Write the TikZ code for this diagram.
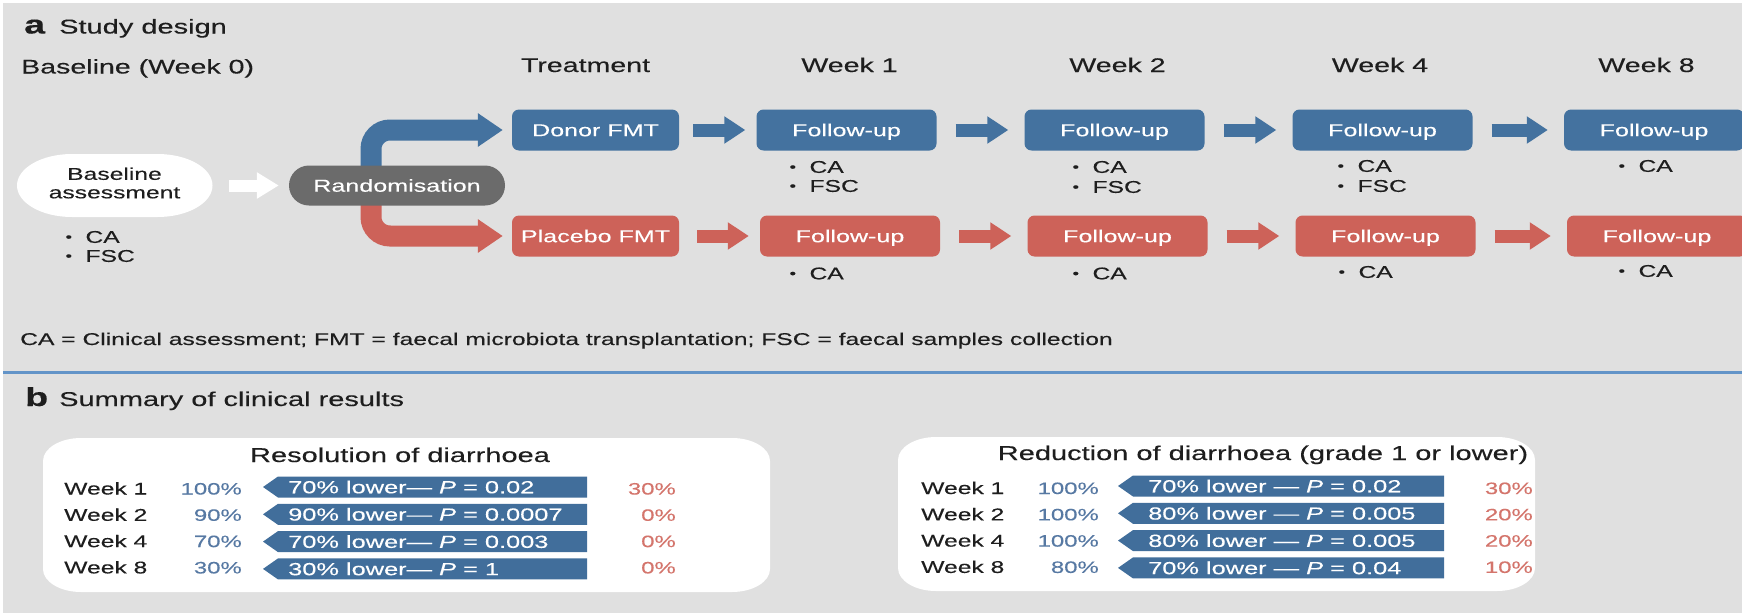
\documentclass[tikz,border=0pt]{standalone}
\usepackage{fontspec}
\setmainfont[FakeStretch=1.45,FakeBold=0.25]{Liberation Sans}
\usetikzlibrary{arrows.meta}

\definecolor{panelgrey}{HTML}{E0E0E0}
\definecolor{fmtblue}{HTML}{44729F}
\definecolor{fmtred}{HTML}{CD6259}
\definecolor{randgrey}{HTML}{6B6B6B}
\definecolor{barblue}{HTML}{416E9B}
\definecolor{pctblue}{HTML}{5779A3}
\definecolor{pctred}{HTML}{D4756C}
\definecolor{rulecol}{HTML}{6394C8}
\definecolor{ink}{HTML}{1E1E1E}

\newcommand\fsz[1]{\fontsize{#1}{#1}\selectfont}
% bullet item: small dot, then the label
\newcommand\itm[1]{\makebox[20pt][l]{\raisebox{1.5pt}{\fsz{13}\textbullet}}#1}
% white panel with elliptical corners: x1, ytop, x2, ybottom
\newcommand\softpanel[4]{%
  \fill[white] (#1+38,#2) -- (#3-38,#2)
    arc[start angle=90,end angle=0,x radius=38,y radius=23] -- (#3,#4+23)
    arc[start angle=0,end angle=-90,x radius=38,y radius=23] -- (#1+38,#4)
    arc[start angle=270,end angle=180,x radius=38,y radius=23] -- (#1,#2-23)
    arc[start angle=180,end angle=90,x radius=38,y radius=23] -- cycle;}

\pgfdeclarelayer{background}
\pgfdeclarelayer{connectors}
\pgfsetlayers{background,connectors,main}

\begin{document}
\begin{tikzpicture}[x=1pt,y=1pt,
  every node/.style={inner sep=0pt, text=ink},
  heading/.style={font=\fsz{19.7}, anchor=base},
  boxlabel/.style={font=\fsz{17.3}, text=white, minimum height=41pt,
    text height=12.4pt, text depth=0pt, rounded corners=7pt},
  bluebox/.style={boxlabel, fill=fmtblue, minimum width=180pt},
  redbox/.style={boxlabel, fill=fmtred, minimum width=180pt},
  item/.style={font=\fsz{17}, anchor=west},
  flowarrow/.style={line width=13pt, -{Triangle[length=21pt,width=26pt]},
    shorten <=19pt, shorten >=16pt},
  bigarrow/.style={line width=21pt, rounded corners=19pt, shorten >=9pt,
    -{Triangle[length=25pt,width=32pt]}},
  whitearrow/.style={draw=white, line width=12pt, -{Triangle[length=22pt,width=25pt]}},
  rowtext/.style={font=\fsz{17}, anchor=base west},
  pct/.style={font=\fsz{16.5}, anchor=base east},
  bartext/.style={font=\fsz{17.5}, text=white, anchor=west},
  paneltitle/.style={font=\fsz{20}, anchor=base}
]
\useasboundingbox (0,0) rectangle (1742,-613);
\begin{pgfonlayer}{background}
  \fill[white] (0,0) rectangle (1742,-613);
  \fill[panelgrey] (3,-3) rectangle (1742,-613);
\end{pgfonlayer}

% ---------------- panel a ----------------
\node[font=\fsz{26}\bfseries, anchor=base west] (taga) at (24,-33.5) {a};
\node[font=\fsz{20}, anchor=base west] (titlea) at (59,-33.5) {Study design};

\node[heading, anchor=base west] (hbase) at (21,-73.5) {Baseline (Week 0)};
\node[heading] (htreat) at (585.5,-72) {Treatment};
\node[heading] (hw1) at (849.5,-72) {Week 1};
\node[heading] (hw2) at (1117.5,-72) {Week 2};
\node[heading] (hw4) at (1380,-72) {Week 4};
\node[heading] (hw8) at (1646.5,-72) {Week 8};

% baseline assessment oval
\fill[white] (72,-154) -- (157.5,-154)
  arc[start angle=90,end angle=-90,x radius=55,y radius=31.5] -- (72,-217)
  arc[start angle=270,end angle=90,x radius=55,y radius=31.5] -- cycle;
\node[minimum width=195.5pt, minimum height=63pt] (baseshape) at (114.75,-185.5) {};
\node[font=\fontsize{17}{18.5}\selectfont, align=center] (basetext) at (114.5,-183) {Baseline\\assessment};
\node[item] (bi1) at (65.3,-237) {\itm{CA}};
\node[item] (bi2) at (65.3,-256) {\itm{FSC}};

\node[fill=randgrey, rounded corners=20pt, minimum width=216pt, minimum height=40pt,
  font=\fsz{17.3}, text=white, text height=12.4pt, text depth=0pt] (rand) at (397,-185.5) {Randomisation};

% treatment boxes
\node[bluebox, minimum width=167pt] (donor) at (595.5,-130) {Donor FMT};
\node[redbox, minimum width=167pt] (placebo) at (595.5,-236) {Placebo FMT};

% follow-up boxes
\node[bluebox] (bfu1) at (846.5,-130) {Follow-up};
\node[bluebox] (bfu2) at (1114.5,-130) {Follow-up};
\node[bluebox] (bfu3) at (1382.5,-130) {Follow-up};
\node[bluebox] (bfu4) at (1654,-130) {Follow-up};
\node[redbox] (rfu1) at (850,-236) {Follow-up};
\node[redbox] (rfu2) at (1117.5,-236) {Follow-up};
\node[redbox] (rfu3) at (1385.5,-236) {Follow-up};
\node[redbox] (rfu4) at (1657,-236) {Follow-up};

% assessments per visit
\node[item] (b1a) at (789.3,-167) {\itm{CA}};
\node[item] (b1b) at (789.3,-186) {\itm{FSC}};
\node[item] (b2a) at (1072.3,-167) {\itm{CA}};
\node[item] (b2b) at (1072.3,-187) {\itm{FSC}};
\node[item] (b3a) at (1337.3,-166) {\itm{CA}};
\node[item] (b3b) at (1337.3,-186) {\itm{FSC}};
\node[item] (b4a) at (1618.3,-166) {\itm{CA}};
\node[item] (r1a) at (789.3,-273.5) {\itm{CA}};
\node[item] (r2a) at (1072.3,-273.5) {\itm{CA}};
\node[item] (r3a) at (1338.3,-272) {\itm{CA}};
\node[item] (r4a) at (1618.3,-271) {\itm{CA}};

\begin{pgfonlayer}{connectors}
  \draw[whitearrow] ([xshift=16.5pt]baseshape.east) -- ([xshift=-10pt]rand.west);
  \draw[bigarrow, draw=fmtblue] ([xshift=-26pt]rand.center) |- (donor.west);
  \draw[bigarrow, draw=fmtred] ([xshift=-26pt]rand.center) |- (placebo.west);
\end{pgfonlayer}

\draw[flowarrow, draw=fmtblue, shorten <=14pt, shorten >=11pt] (donor.east) -- (bfu1.west);
\draw[flowarrow, draw=fmtblue] (bfu1.east) -- (bfu2.west);
\draw[flowarrow, draw=fmtblue] (bfu2.east) -- (bfu3.west);
\draw[flowarrow, draw=fmtblue] (bfu3.east) -- (bfu4.west);
\draw[flowarrow, draw=fmtred, shorten <=18pt, shorten >=11pt] (placebo.east) -- (rfu1.west);
\draw[flowarrow, draw=fmtred] (rfu1.east) -- (rfu2.west);
\draw[flowarrow, draw=fmtred] (rfu2.east) -- (rfu3.west);
\draw[flowarrow, draw=fmtred] (rfu3.east) -- (rfu4.west);

\node[font=\fsz{17}, anchor=base west] (legend) at (20,-345)
  {CA = Clinical assessment; FMT = faecal microbiota transplantation; FSC = faecal samples collection};

% divider between the panels
\draw[rulecol, line width=2.5pt] (3,-372.5) -- (1742,-372.5);

% ---------------- panel b ----------------
\node[font=\fsz{26}\bfseries, anchor=base west] (tagb) at (25,-406) {b};
\node[font=\fsz{20}, anchor=base west] (titleb) at (59,-406) {Summary of clinical results};

\softpanel{43}{-438}{770}{-592}
\softpanel{898}{-437}{1535}{-591}

\node[paneltitle] (restitle) at (400,-462) {Resolution of diarrhoea};
\node[paneltitle] (redtitle) at (1263,-460) {Reduction of diarrhoea (grade 1 or lower)};

\foreach \i/\wk/\pa/\bt/\pb in {
  0/1/100\%/{70\% lower— \textit{P} = 0.02}/30\%,
  1/2/90\%/{90\% lower— \textit{P} = 0.0007}/0\%,
  2/4/70\%/{70\% lower— \textit{P} = 0.003}/0\%,
  3/8/30\%/{30\% lower— \textit{P} = 1}/0\%}{
  \pgfmathsetmacro\yc{-487-27.3*\i}
  \pgfmathsetmacro\yb{-494.5-26.3*\i}
  \fill[barblue] (263,\yc) -- (278,\yc+10.5) -- (587,\yc+10.5) -- (587,\yc-10.5) -- (278,\yc-10.5) -- cycle;
  \node[rowtext] (lweek\i) at (64,\yb) {Week \wk};
  \node[pct, text=pctblue] (lfmt\i) at (242,\yb) {\pa};
  \node[bartext] (lbar\i) at (288,\yc) {\bt};
  \node[pct, text=pctred] (lplc\i) at (676,\yb) {\pb};
}

\foreach \i/\wk/\pa/\bt/\pb in {
  0/1/100\%/{70\% lower — \textit{P} = 0.02}/30\%,
  1/2/100\%/{80\% lower — \textit{P} = 0.005}/20\%,
  2/4/100\%/{80\% lower — \textit{P} = 0.005}/20\%,
  3/8/80\%/{70\% lower — \textit{P} = 0.04}/10\%}{
  \pgfmathsetmacro\yc{-486-27.3*\i}
  \pgfmathsetmacro\yb{-494-26.3*\i}
  \fill[barblue] (1118,\yc) -- (1133,\yc+10.5) -- (1444,\yc+10.5) -- (1444,\yc-10.5) -- (1133,\yc-10.5) -- cycle;
  \node[rowtext] (rweek\i) at (921,\yb) {Week \wk};
  \node[pct, text=pctblue] (rfmt\i) at (1099,\yb) {\pa};
  \node[bartext] (rbar\i) at (1148,\yc) {\bt};
  \node[pct, text=pctred] (rplc\i) at (1533,\yb) {\pb};
}
\end{tikzpicture}
\end{document}
